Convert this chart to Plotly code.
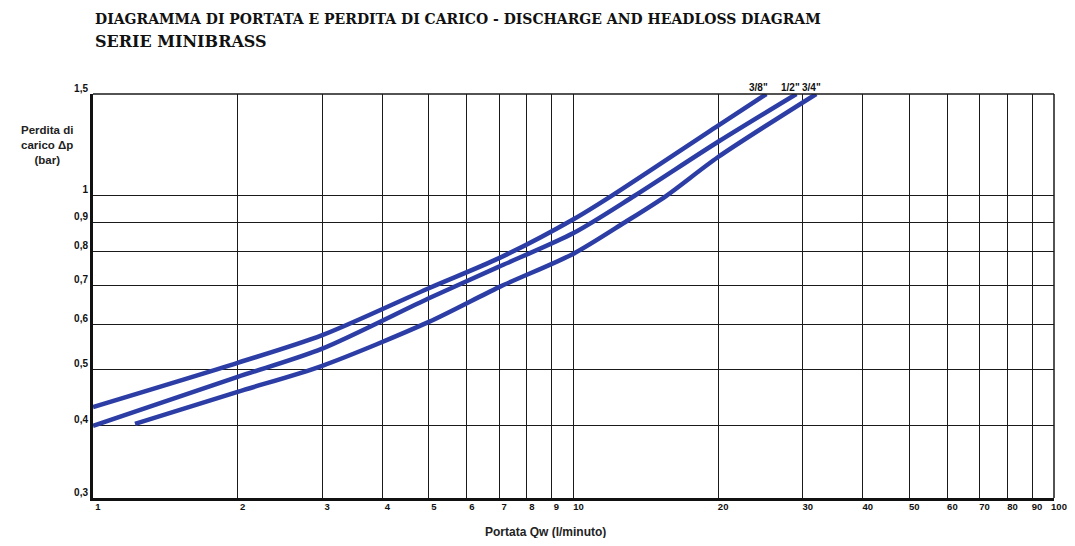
import numpy as np
import plotly.graph_objects as go

# Data (flow Qw in l/min, headloss Δp in bar)
q_38 = [1.0, 2.0, 3.0, 5.0, 7.0, 10.0, 12.0, 20.0, 25.2]
dp_38 = [0.431, 0.514, 0.574, 0.692, 0.780, 0.911, 1.0, 1.323, 1.5]

q_12 = [1.0, 2.0, 3.0, 5.0, 7.0, 10.0, 13.4, 20.0, 29.1]
dp_12 = [0.400, 0.486, 0.544, 0.665, 0.754, 0.862, 1.0, 1.240, 1.5]

q_34 = [1.223, 2.0, 3.0, 5.0, 7.0, 10.0, 12.8, 15.6, 20.0, 32.0]
dp_34 = [0.403, 0.458, 0.508, 0.605, 0.695, 0.794, 0.9, 1.0, 1.167, 1.5]

series_names = ['3/8"', '1/2"', '3/4"']
label_pos = [0.692, 0.726, 0.748]  # label centres as fraction of plot width

x_ticks = [1, 2, 3, 4, 5, 6, 7, 8, 9, 10, 20, 30, 40, 50, 60, 70, 80, 90, 100]
x_ticklabels = [str(v) for v in x_ticks]
y_ticks = [0.3, 0.4, 0.5, 0.6, 0.7, 0.8, 0.9, 1.0, 1.5]
y_ticklabels = ["0,3", "0,4", "0,5", "0,6", "0,7", "0,8", "0,9", "1", "1,5"]

BLUE = "#2c3ea6"
GRID = "#1a1a1a"

fig = go.Figure()
for q, dp, name in zip([q_38, q_12, q_34], [dp_38, dp_12, dp_34], series_names):
    fig.add_trace(go.Scatter(
        x=q, y=dp, mode="lines", name=name,
        line=dict(color=BLUE, width=4.5, shape="spline", smoothing=0.8),
        showlegend=False, cliponaxis=True,
    ))

x_tick_font = dict(family="Liberation Sans, Arial", size=9.5, color="#111", weight="bold")
y_tick_font = dict(family="Liberation Sans, Arial", size=10, color="#111", weight="bold")

fig.update_xaxes(
    type="log", range=[0, 2], automargin=False,
    tickmode="array", tickvals=x_ticks, ticktext=x_ticklabels,
    showgrid=True, gridcolor=GRID, gridwidth=1.3,
    showline=True, linecolor="#111", linewidth=3,
    ticks="", tickfont=x_tick_font, ticklabelstandoff=-2, ticklabelshift=5,
    zeroline=False,
)
fig.update_yaxes(
    type="log", range=[np.log10(0.3), np.log10(1.5)], automargin=False,
    tickmode="array", tickvals=y_ticks, ticktext=y_ticklabels,
    showgrid=True, gridcolor=GRID, gridwidth=1.3,
    showline=True, linecolor="#111", linewidth=3,
    ticks="", tickfont=y_tick_font, ticklabelstandoff=0, ticklabelshift=-6,
    zeroline=False,
)

# top and right frame lines
fig.add_shape(type="line", xref="paper", yref="paper", x0=0, x1=1, y0=1, y1=1,
              line=dict(color=GRID, width=1.5))
fig.add_shape(type="line", xref="paper", yref="paper", x0=1, x1=1, y0=0, y1=1,
              line=dict(color=GRID, width=1.5))

annotations = [
    dict(text="<b>DIAGRAMMA DI PORTATA E PERDITA DI CARICO - DISCHARGE AND HEADLOSS DIAGRAM</b>",
         xref="paper", yref="paper", x=0, y=1, yshift=75,
         xanchor="left", yanchor="middle", showarrow=False,
         font=dict(family="DejaVu Serif", size=14, color="#111")),
    dict(text="<b>SERIE MINIBRASS</b>",
         xref="paper", yref="paper", x=0, y=1, yshift=53,
         xanchor="left", yanchor="middle", showarrow=False,
         font=dict(family="DejaVu Serif", size=16, color="#111")),
    dict(text="<b>Perdita di<br>carico Δp<br>(bar)</b>",
         xref="paper", yref="paper", x=0, y=1, xshift=-46, yshift=-51,
         xanchor="center", yanchor="middle", showarrow=False, align="center",
         font=dict(family="Liberation Sans, Arial", size=11.5, color="#222")),
    dict(text="<b>Portata Qw (l/minuto)</b>",
         xref="paper", yref="paper", x=0, y=0, xshift=452, yshift=-34,
         xanchor="center", yanchor="middle", showarrow=False,
         font=dict(family="Liberation Sans, Arial", size=12, color="#222")),
]
for name, lp in zip(series_names, label_pos):
    annotations.append(dict(
        text="<b>" + name + "</b>", xref="paper", yref="paper", x=lp, y=1,
        yshift=7, xanchor="center", yanchor="middle", showarrow=False,
        font=dict(family="Liberation Sans, Arial", size=10, color="#111")))

# page body has an 8px default margin, so the figure is sized to fit inside it
fig.update_layout(
    width=1059, height=530,
    margin=dict(l=85, r=13, t=86, b=40),
    paper_bgcolor="white", plot_bgcolor="white",
    annotations=annotations,
)

fig.write_html("out.html")
